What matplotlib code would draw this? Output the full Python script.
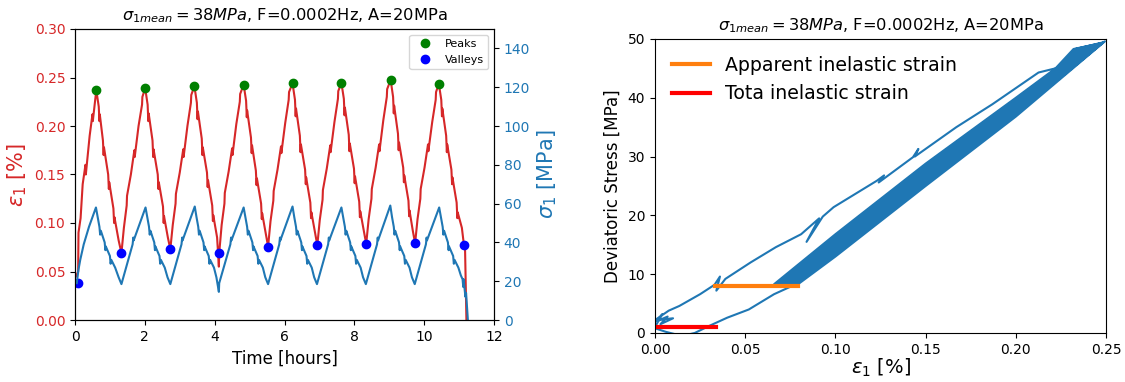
import matplotlib.pyplot as plt

# ---- cyclic test, time series ----
strain_t = [0.03, 0.09, 0.10, 0.16, 0.22, 0.30, 0.31, 0.42, 0.50, 0.51, 0.61,
            0.68, 0.70, 0.71, 0.80, 0.82, 0.83, 0.95, 0.97, 0.98, 1.10, 1.12, 1.13, 1.25, 1.33,
            1.40, 1.48, 1.49, 1.60, 1.70, 1.71, 1.82, 1.92, 1.93, 2.01,
            2.08, 2.10, 2.11, 2.22, 2.24, 2.25, 2.37, 2.39, 2.40, 2.52, 2.54, 2.55, 2.66, 2.73,
            2.80, 2.88, 2.89, 3.00, 3.10, 3.11, 3.22, 3.32, 3.33, 3.42,
            3.49, 3.51, 3.52, 3.63, 3.65, 3.66, 3.78, 3.80, 3.81, 3.93, 3.95, 3.96, 4.07, 4.12, 4.13,
            4.20, 4.28, 4.29, 4.40, 4.50, 4.51, 4.62, 4.72, 4.73, 4.83,
            4.90, 4.92, 4.93, 5.04, 5.06, 5.07, 5.18, 5.20, 5.21, 5.33, 5.35, 5.36, 5.46, 5.53,
            5.60, 5.68, 5.69, 5.80, 5.90, 5.91, 6.02, 6.12, 6.13, 6.23,
            6.30, 6.32, 6.33, 6.44, 6.46, 6.47, 6.59, 6.61, 6.62, 6.74, 6.76, 6.77, 6.87, 6.94,
            7.01, 7.09, 7.10, 7.21, 7.31, 7.32, 7.43, 7.53, 7.54, 7.63,
            7.70, 7.72, 7.73, 7.84, 7.86, 7.87, 7.99, 8.01, 8.02, 8.14, 8.16, 8.17, 8.27, 8.34,
            8.41, 8.49, 8.50, 8.61, 8.71, 8.72, 8.83, 8.93, 8.94, 9.04,
            9.11, 9.13, 9.14, 9.25, 9.27, 9.28, 9.40, 9.42, 9.43, 9.55, 9.57, 9.58, 9.67, 9.74,
            9.81, 9.89, 9.90, 10.01, 10.11, 10.12, 10.23, 10.33, 10.34, 10.42,
            10.49, 10.51, 10.52, 10.63, 10.65, 10.66, 10.78, 10.80, 10.81, 10.93, 10.95, 10.96, 11.08, 11.14,
            11.17, 11.21]
strain = [0.045, 0.050, 0.090, 0.105, 0.140, 0.160, 0.150, 0.190, 0.212, 0.205, 0.237,
          0.220, 0.205, 0.212, 0.185, 0.170, 0.178, 0.150, 0.135, 0.142, 0.115, 0.100, 0.106, 0.082, 0.069,
          0.095, 0.118, 0.128, 0.150, 0.175, 0.168, 0.200, 0.222, 0.230, 0.239,
          0.222, 0.205, 0.213, 0.185, 0.168, 0.176, 0.150, 0.135, 0.142, 0.117, 0.100, 0.107, 0.085, 0.073,
          0.098, 0.120, 0.130, 0.152, 0.176, 0.168, 0.200, 0.224, 0.232, 0.241,
          0.224, 0.207, 0.215, 0.187, 0.170, 0.178, 0.152, 0.137, 0.144, 0.118, 0.102, 0.108, 0.085, 0.055, 0.069,
          0.098, 0.120, 0.131, 0.153, 0.177, 0.170, 0.202, 0.225, 0.233, 0.2425,
          0.226, 0.209, 0.216, 0.188, 0.172, 0.180, 0.154, 0.139, 0.146, 0.120, 0.104, 0.110, 0.090, 0.0757,
          0.102, 0.123, 0.133, 0.155, 0.179, 0.172, 0.203, 0.227, 0.235, 0.244,
          0.227, 0.210, 0.218, 0.190, 0.173, 0.181, 0.155, 0.140, 0.147, 0.121, 0.105, 0.111, 0.091, 0.077,
          0.103, 0.124, 0.134, 0.156, 0.180, 0.173, 0.204, 0.228, 0.236, 0.2445,
          0.228, 0.211, 0.219, 0.191, 0.174, 0.182, 0.156, 0.141, 0.148, 0.122, 0.106, 0.112, 0.092, 0.0784,
          0.104, 0.125, 0.135, 0.157, 0.181, 0.174, 0.206, 0.230, 0.238, 0.2475,
          0.230, 0.213, 0.221, 0.192, 0.175, 0.183, 0.157, 0.142, 0.149, 0.123, 0.107, 0.113, 0.093, 0.079,
          0.104, 0.125, 0.135, 0.157, 0.181, 0.174, 0.204, 0.227, 0.235, 0.2435,
          0.227, 0.210, 0.218, 0.190, 0.173, 0.181, 0.155, 0.140, 0.147, 0.121, 0.105, 0.111, 0.095, 0.077,
          0.075, 0.0]

stress_t = [0.05, 0.10, 0.15, 0.25, 0.40, 0.60,
            0.65, 0.70, 0.72, 0.74, 0.85, 0.87, 0.88, 1.00, 1.02, 1.04, 1.15, 1.25, 1.33,
            1.65, 1.67, 1.68, 2.02,
            2.07, 2.12, 2.14, 2.16, 2.27, 2.29, 2.30, 2.42, 2.44, 2.46, 2.57, 2.65, 2.73,
            3.05, 3.07, 3.08, 3.43,
            3.48, 3.53, 3.55, 3.57, 3.68, 3.70, 3.71, 3.83, 3.85, 3.87, 3.98, 4.05, 4.12, 4.13,
            4.45, 4.47, 4.48, 4.83,
            4.88, 4.93, 4.95, 4.97, 5.08, 5.10, 5.11, 5.23, 5.25, 5.27, 5.38, 5.45, 5.53,
            5.85, 5.87, 5.88, 6.23,
            6.28, 6.33, 6.35, 6.37, 6.48, 6.50, 6.51, 6.63, 6.65, 6.67, 6.78, 6.85, 6.93,
            7.25, 7.27, 7.28, 7.63,
            7.68, 7.73, 7.75, 7.77, 7.88, 7.90, 7.91, 8.03, 8.05, 8.07, 8.18, 8.25, 8.33,
            8.65, 8.67, 8.68, 9.03,
            9.08, 9.13, 9.15, 9.17, 9.28, 9.30, 9.31, 9.43, 9.45, 9.47, 9.58, 9.65, 9.73,
            10.05, 10.07, 10.08, 10.43,
            10.48, 10.53, 10.55, 10.57, 10.68, 10.70, 10.71, 10.83, 10.85, 10.87, 10.98, 11.05,
            11.10, 11.12, 11.13, 11.18, 11.20, 11.25]
stress = [19.0, 26.0, 31.0, 39.0, 48.0, 58.0,
          53.0, 48.0, 44.0, 46.0, 40.0, 36.0, 38.0, 33.0, 29.0, 31.0, 27.0, 22.0, 18.5,
          39.0, 42.5, 41.0, 58.0,
          53.0, 48.0, 44.0, 46.0, 40.0, 36.0, 38.0, 33.0, 29.0, 31.0, 27.0, 22.0, 18.5,
          39.0, 42.5, 41.0, 58.5,
          53.0, 48.0, 44.0, 46.0, 40.0, 36.0, 38.0, 33.0, 29.0, 31.0, 27.0, 22.0, 14.5, 19.0,
          39.0, 42.5, 41.0, 58.0,
          53.0, 48.0, 44.0, 46.0, 40.0, 36.0, 38.0, 33.0, 29.0, 31.0, 27.0, 22.0, 18.5,
          39.0, 42.5, 41.0, 58.5,
          53.0, 48.0, 44.0, 46.0, 40.0, 36.0, 38.0, 33.0, 29.0, 31.0, 27.0, 22.0, 18.5,
          39.0, 42.5, 41.0, 58.0,
          53.0, 48.0, 44.0, 46.0, 40.0, 36.0, 38.0, 33.0, 29.0, 31.0, 27.0, 22.0, 18.5,
          39.0, 42.5, 41.0, 59.0,
          53.0, 48.0, 44.0, 46.0, 40.0, 36.0, 38.0, 33.0, 29.0, 31.0, 27.0, 22.0, 18.5,
          39.0, 42.5, 41.0, 58.0,
          53.0, 48.0, 44.0, 46.0, 40.0, 36.0, 38.0, 33.0, 29.0, 31.0, 27.0, 23.0,
          21.0, 17.0, 21.0, 12.0, 14.0, 0.5]

peak_t = [0.61, 2.01, 3.42, 4.83, 6.23, 7.63, 9.04, 10.42]
peak_strain = [0.237, 0.239, 0.241, 0.2425, 0.244, 0.2445, 0.2475, 0.2435]
valley_t = [0.08, 1.33, 2.73, 4.13, 5.53, 6.94, 8.34, 9.74, 11.14]
valley_strain = [0.0385, 0.069, 0.073, 0.069, 0.0757, 0.077, 0.0784, 0.079, 0.077]

# ---- stress-strain loops ----
first_load_strain = [0.000, 0.004, 0.001, 0.007, 0.003, 0.010, 0.000, 0.0076, 0.0135, 0.025,
                     0.033, 0.036, 0.034, 0.039, 0.053, 0.067, 0.081, 0.091, 0.084, 0.093,
                     0.099, 0.123, 0.127, 0.124, 0.143, 0.146, 0.144, 0.167, 0.187, 0.2126,
                     0.2245, 0.2494]
first_load_stress = [1.0, 3.2, 2.0, 2.8, 1.5, 2.5, 2.2, 3.8, 4.6, 6.6,
                     8.2, 9.6, 7.2, 9.2, 12.0, 14.6, 16.8, 19.5, 15.5, 19.8,
                     21.4, 25.9, 26.8, 25.6, 29.9, 31.3, 30.0, 35.0, 38.9, 44.3,
                     45.2, 49.6]

# unloading / reloading branches, one cycle after another
cycle_strain = [0.200, 0.150, 0.100, 0.078,
                0.066, 0.100, 0.150, 0.200, 0.222, 0.232,
                0.246, 0.196, 0.146, 0.096, 0.074,
                0.071, 0.105, 0.155, 0.205, 0.227, 0.237,
                0.2485, 0.1985, 0.1485, 0.0985, 0.0765,
                0.068, 0.102, 0.152, 0.202, 0.224, 0.234,
                0.243, 0.193, 0.143, 0.093, 0.071,
                0.074, 0.108, 0.158, 0.208, 0.230, 0.240,
                0.247, 0.197, 0.147, 0.097, 0.075,
                0.0695, 0.1035, 0.1535, 0.2035, 0.2255, 0.2355,
                0.242, 0.192, 0.142, 0.092, 0.070,
                0.0725, 0.1065, 0.1565, 0.2065, 0.2285, 0.2385,
                0.2445, 0.1945, 0.1445, 0.0945, 0.0725,
                0.067, 0.101, 0.151, 0.201, 0.223, 0.233,
                0.248, 0.198, 0.148, 0.098, 0.076]
cycle_stress = [36.8, 25.0, 13.0, 8.0,
                8.3, 16.8, 28.8, 40.0, 45.0, 48.3,
                49.2, 36.8, 25.0, 13.0, 8.0,
                8.3, 16.8, 28.8, 40.0, 45.0, 48.3,
                49.4, 36.8, 25.0, 13.0, 8.0,
                8.3, 16.8, 28.8, 40.0, 45.0, 48.3,
                48.9, 36.8, 25.0, 13.0, 8.0,
                8.3, 16.8, 28.8, 40.0, 45.0, 48.3,
                49.3, 36.8, 25.0, 13.0, 8.0,
                8.3, 16.8, 28.8, 40.0, 45.0, 48.3,
                48.8, 36.8, 25.0, 13.0, 8.0,
                8.3, 16.8, 28.8, 40.0, 45.0, 48.3,
                49.1, 36.8, 25.0, 13.0, 8.0,
                8.3, 16.8, 28.8, 40.0, 45.0, 48.3,
                49.4, 36.8, 25.0, 13.0, 8.0]

unload_strain = [0.066, 0.052, 0.040, 0.030, 0.022, 0.015, 0.006, 0.000]
unload_stress = [6.6, 4.0, 2.6, 1.2, 0.0, -0.5, 0.2, 0.8]

apparent_x = [0.033, 0.079]
apparent_y = [8.0, 8.0]
total_x = [0.0, 0.034]
total_y = [1.0, 1.0]

title = r'$\sigma_{1mean} = 38MPa$, F=0.0002Hz, A=20MPa'
red = '#d62728'
blue = '#1f77b4'

fig = plt.figure(figsize=(11.25, 3.82), dpi=100)

# left: strain and stress against time
ax1 = fig.add_axes([75 / 1125, 62 / 382, 419 / 1125, 291 / 382])
ax1.plot(strain_t, strain, color=red)
ax1.plot(peak_t, peak_strain, 'o', color='green', label='Peaks')
ax1.plot(valley_t, valley_strain, 'o', color='blue', label='Valleys')
ax1.set_xlim(0, 12)
ax1.set_ylim(0, 0.30)
ax1.set_xlabel('Time [hours]', fontsize=12)
ax1.set_ylabel(r'$\varepsilon_1$ [%]', color=red, fontsize=15)
ax1.tick_params(axis='y', labelcolor=red)
ax1.legend(loc='upper right', fontsize=8)
ax1.set_title(title, fontsize=11.7)

ax2 = ax1.twinx()
ax2.plot(stress_t, stress, color=blue)
ax2.set_ylim(0, 150)
ax2.set_yticks(range(0, 141, 20))
ax2.set_ylabel(r'$\sigma_1$ [MPa]', color=blue, fontsize=15)
ax2.tick_params(axis='y', labelcolor=blue)

# right: deviatoric stress against strain
ax3 = fig.add_axes([655 / 1125, 49 / 382, 451 / 1125, 294 / 382])
ax3.plot(first_load_strain + cycle_strain + unload_strain,
         first_load_stress + cycle_stress + unload_stress, color=blue)
ax3.plot(apparent_x, apparent_y, color='#ff7f0e', lw=3, label='Apparent inelastic strain')
ax3.plot(total_x, total_y, color='red', lw=3, label='Tota inelastic strain')
ax3.set_xlim(0, 0.25)
ax3.set_ylim(0, 50)
ax3.set_xlabel(r'$\varepsilon_1$ [%]', fontsize=14, labelpad=0)
ax3.set_ylabel('Deviatoric Stress [MPa]', fontsize=12)
ax3.legend(loc='upper left', fontsize=13.6, frameon=False)
ax3.set_title(title, fontsize=11.7)

fig.savefig('out.png', dpi=100)
